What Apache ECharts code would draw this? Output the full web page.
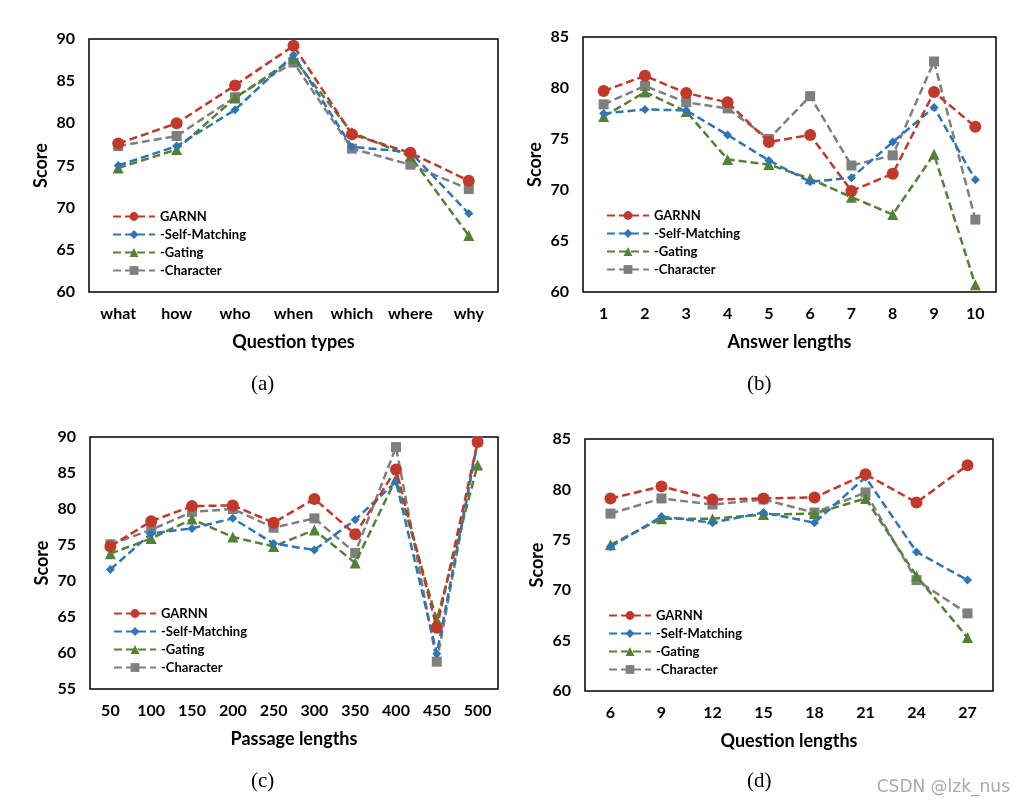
<!DOCTYPE html>
<html><head><meta charset="utf-8">
<script src="https://cdn.jsdelivr.net/npm/echarts@6/dist/echarts.min.js"></script>
<style>html,body{margin:0;padding:0;background:#fff}#c{width:1024px;height:808px}</style>
</head><body><div id="c"></div>
<script>
const seriesNames = ['GARNN', '-Self-Matching', '-Gating', '-Character'];

// (a) Question types
const catA = ['what', 'how', 'who', 'when', 'which', 'where', 'why'];
const garnnA = [77.6, 80.0, 84.5, 89.2, 78.7, 76.5, 73.2];
const selfA  = [75.0, 77.3, 81.6, 88.1, 77.2, 76.6, 69.3];
const gateA  = [74.7, 76.9, 83.0, 87.7, 78.9, 76.1, 66.7];
const charA  = [77.3, 78.5, 83.1, 87.2, 77.0, 75.1, 72.2];

// (b) Answer lengths
const catB = ['1', '2', '3', '4', '5', '6', '7', '8', '9', '10'];
const garnnB = [79.7, 81.2, 79.5, 78.6, 74.7, 75.4, 69.9, 71.6, 79.6, 76.2];
const selfB  = [77.5, 77.9, 77.8, 75.4, 72.9, 70.8, 71.2, 74.7, 78.1, 71.0];
const gateB  = [77.2, 79.6, 77.7, 73.0, 72.5, 71.1, 69.3, 67.6, 73.5, 60.7];
const charB  = [78.4, 80.2, 78.6, 78.0, 75.0, 79.2, 72.4, 73.4, 82.6, 67.1];

// (c) Passage lengths
const catC = ['50', '100', '150', '200', '250', '300', '350', '400', '450', '500'];
const garnnC = [74.8, 78.3, 80.4, 80.5, 78.1, 81.4, 76.5, 85.5, 63.5, 89.3];
const selfC  = [71.6, 76.6, 77.3, 78.7, 75.2, 74.3, 78.5, 83.8, 59.9, 89.3];
const gateC  = [73.8, 75.9, 78.6, 76.1, 74.8, 77.1, 72.5, 84.2, 64.6, 86.1];
const charC  = [75.1, 77.1, 79.6, 80.0, 77.4, 78.7, 73.9, 88.6, 58.8, 89.4];

// (d) Question lengths
const catD = ['6', '9', '12', '15', '18', '21', '24', '27'];
const garnnD = [79.1, 80.3, 79.0, 79.1, 79.2, 81.5, 78.7, 82.4];
const selfD  = [74.3, 77.3, 76.7, 77.7, 76.7, 81.2, 73.8, 71.0];
const gateD  = [74.5, 77.1, 77.1, 77.5, 77.6, 79.1, 71.4, 65.3];
const charD  = [77.6, 79.1, 78.5, 79.0, 77.7, 79.7, 71.0, 67.7];

const panels = [
  {cats: catA, data: [garnnA, selfA, gateA, charA], xName: 'Question types', yMin: 60, yMax: 90, label: '(a)',
   grid: {left: 89, top: 39, width: 409, height: 253}, legend: {left: 112, top: 210}, capX: 263, capY: 386},
  {cats: catB, data: [garnnB, selfB, gateB, charB], xName: 'Answer lengths', yMin: 60, yMax: 85, label: '(b)',
   grid: {left: 583, top: 37, width: 413, height: 255}, legend: {left: 606, top: 209}, capX: 759, capY: 386},
  {cats: catC, data: [garnnC, selfC, gateC, charC], xName: 'Passage lengths', yMin: 55, yMax: 90, label: '(c)',
   grid: {left: 90, top: 437, width: 408, height: 252}, legend: {left: 113, top: 607}, capX: 263, capY: 783},
  {cats: catD, data: [garnnD, selfD, gateD, charD], xName: 'Question lengths', yMin: 60, yMax: 85, label: '(d)',
   grid: {left: 585, top: 439, width: 408, height: 252}, legend: {left: 608, top: 609}, capX: 759, capY: 783}
];

const colors = ['#C0392B', '#2E75B6', '#548235', '#7F7F7F'];
const symbols = ['circle', 'diamond', 'triangle', 'rect'];
const symSizes = [12, 9, 11, 10];
const FONT = 'Lato';

const option = {
  animation: false,
  backgroundColor: '#fff',
  grid: [], xAxis: [], yAxis: [], series: [], legend: [], graphic: []
};

panels.forEach((p, i) => {
  option.grid.push(Object.assign({show: true, borderColor: '#000', borderWidth: 1.5, backgroundColor: 'transparent'}, p.grid));
  option.xAxis.push({
    type: 'category', gridIndex: i, data: p.cats, boundaryGap: true,
    axisLine: {show: false}, axisTick: {show: false},
    axisLabel: {color: '#000', fontFamily: FONT, fontWeight: 'bold', fontSize: 16, margin: 14},
    name: p.xName, nameLocation: 'middle', nameGap: 41,
    nameTextStyle: {color: '#000', fontFamily: FONT, fontWeight: 'bold', fontSize: 18}
  });
  option.yAxis.push({
    type: 'value', gridIndex: i, min: p.yMin, max: p.yMax, interval: 5,
    axisLine: {show: false}, axisTick: {show: false}, splitLine: {show: false},
    axisLabel: {color: '#000', fontFamily: FONT, fontWeight: 'bold', fontSize: 16, margin: 14},
    name: 'Score', nameLocation: 'middle', nameGap: 39, nameRotate: 90,
    nameTextStyle: {color: '#000', fontFamily: FONT, fontWeight: 'bold', fontSize: 18}
  });
  seriesNames.forEach((n, k) => {
    option.series.push({
      id: 'p' + i + 's' + k, name: n, type: 'line', xAxisIndex: i, yAxisIndex: i,
      data: p.data[k], color: colors[k],
      symbol: symbols[k], symbolSize: symSizes[k], showAllSymbol: true,
      lineStyle: {color: colors[k], width: 2.5, type: [8, 4]},
      itemStyle: {color: colors[k]}, z: 10 - k
    });
  });
  option.legend.push({
    data: seriesNames, orient: 'vertical', left: p.legend.left, top: p.legend.top,
    padding: 0, itemWidth: 42, itemHeight: 11, itemGap: 5,
    textStyle: {color: '#000', fontFamily: FONT, fontWeight: 'bold', fontSize: 13, padding: [0, 0, 0, 0]},
    selectedMode: false
  });
  option.graphic.push({
    type: 'text', left: p.capX - 12, top: p.capY - 12,
    style: {text: p.label, fontFamily: 'Liberation Serif', fontSize: 21, fill: '#000'}
  });
});

option.graphic.push({
  type: 'text', right: 14, top: 779,
  style: {text: 'CSDN @lzk_nus', fontFamily: 'DejaVu Sans', fontSize: 17, fill: '#aaaaaa'}
});

const chart = echarts.init(document.getElementById('c'), null, {renderer: 'canvas'});
chart.setOption(option);
</script>
</body></html>
